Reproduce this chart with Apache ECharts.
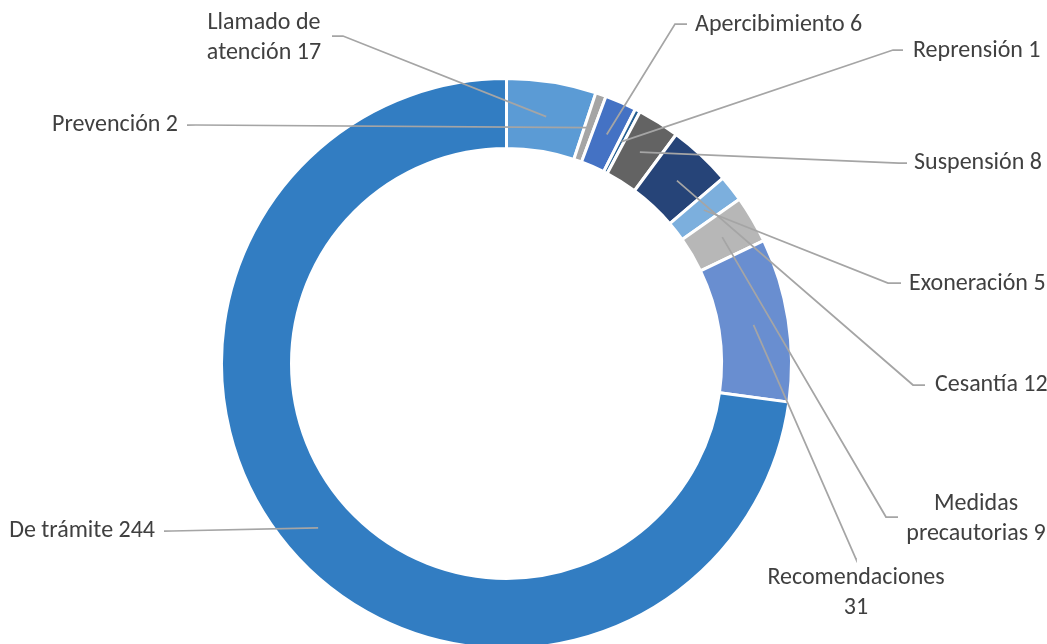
<!DOCTYPE html>
<html>
<head>
<meta charset="utf-8">
<script src="https://cdn.jsdelivr.net/npm/echarts@6/dist/echarts.min.js"></script>
<style>
  html, body { margin: 0; padding: 0; background: #fff; }
  #main { width: 1047px; height: 644px; }
</style>
</head>
<body>
<div id="main"></div>
<script>
var categories = ['Llamado de atención', 'Prevención', 'Apercibimiento', 'Reprensión', 'Suspensión',
                  'Cesantía', 'Exoneración', 'Medidas precautorias', 'Recomendaciones', 'De trámite'];
var values = [17, 2, 6, 1, 8, 12, 5, 9, 31, 244];
var colors = ['#5B9BD5', '#A5A5A5', '#4472C4', '#255E91', '#636363',
              '#264478', '#7CAFDD', '#B7B7B7', '#698ED0', '#327DC2'];
// label text, broken over lines like the original
var labelNames = ['Llamado de\natención', 'Prevención', 'Apercibimiento', 'Reprensión', 'Suspensión',
                  'Cesantía', 'Exoneración', 'Medidas\nprecautorias', 'Recomendaciones\n', 'De trámite'];

// label spot: text x, text y, align, leader bend x/y, leader end x/y
var labelSpots = [
  [264, 38, 'center', 343, 36, 332, 36],
  [178, 125, 'right', 196, 125, 187, 125],
  [695, 25, 'left', 675, 24, 687, 24],
  [913, 51, 'left', 893, 50, 903, 50],
  [914, 163, 'left', 899, 163, 907, 163],
  [935, 385, 'left', 913, 385, 925, 385],
  [909, 284, 'left', 888, 283, 901, 283],
  [976, 519, 'center', 886, 517, 898, 517],
  [856, 593, 'center', 856, 559, 856, 558],
  [155, 531, 'right', 172, 531, 164, 531]
];

var cx = 506.5, cy = 363.5, rIn = 215, rOut = 285;
var total = values.reduce(function (a, b) { return a + b; }, 0);

var chart = echarts.init(document.getElementById('main'));

var pieData = categories.map(function (c, i) {
  return { name: c, value: values[i], itemStyle: { color: colors[i] } };
});

chart.setOption({
  animation: false,
  series: [{
    // the ring itself
    type: 'pie',
    z: 1,
    center: [cx, cy],
    radius: [rIn, rOut],
    startAngle: 90,
    silent: true,
    data: pieData,
    itemStyle: { borderColor: '#fff', borderWidth: 3 },
    label: { show: false },
    labelLine: { show: false }
  }, {
    // invisible copy that carries labels + leader lines drawn over the ring
    type: 'pie',
    z: 3,
    center: [cx, cy],
    radius: [rIn, rOut],
    startAngle: 90,
    silent: true,
    avoidLabelOverlap: false,
    data: categories.map(function (c, i) { return { name: c, value: values[i] }; }),
    itemStyle: { color: 'rgba(0,0,0,0)', borderWidth: 0 },
    label: {
      show: true,
      position: 'outside',
      color: '#404040',
      fontFamily: 'Carlito, Calibri, Lato, sans-serif',
      fontSize: 24,
      lineHeight: 30,
      formatter: function (p) {
        var n = labelNames[p.dataIndex];
        return n + (n.charAt(n.length - 1) === '\n' ? '' : ' ') + p.value;
      }
    },
    labelLine: {
      show: true,
      lineStyle: { color: '#A5A5A5', width: 1.75 }
    },
    labelLayout: function (p) {
      var i = p.dataIndex;
      var before = 0;
      for (var k = 0; k < i; k++) before += values[k];
      var ang = (before + values[i] / 2) / total * Math.PI * 2;
      var rm = (rIn + rOut) / 2;
      var ax = cx + rm * Math.sin(ang);
      var ay = cy - rm * Math.cos(ang);
      var s = labelSpots[i];
      return {
        x: s[0],
        y: s[1],
        align: s[2],
        verticalAlign: 'middle',
        labelLinePoints: [[ax, ay], [s[3], s[4]], [s[5], s[6]]]
      };
    }
  }]
});
</script>
</body>
</html>
